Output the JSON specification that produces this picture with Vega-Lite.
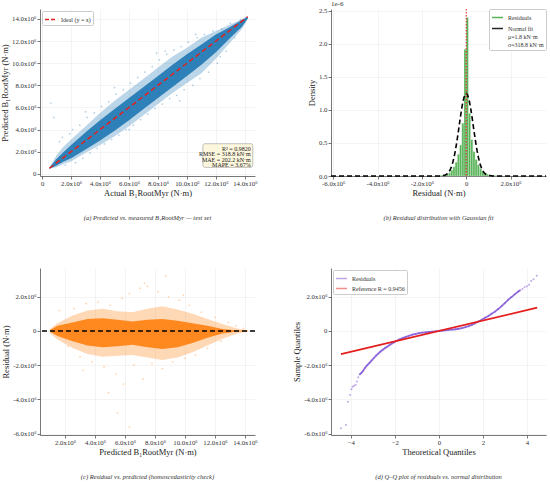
{
  "$schema": "https://vega.github.io/schema/vega-lite/v6.json",
  "padding": {"left": 0, "top": 0, "right": 0, "bottom": 0},
  "background": "white",
  "config": {
    "font": "Liberation Serif",
    "view": {"stroke": null},
    "axis": {"labelFont": "Liberation Serif", "labelFontSize": 6.8, "titleFont": "Liberation Serif", "titleFontSize": 8.5, "titleFontWeight": "normal", "labelColor": "#333333", "titleColor": "#222222", "domainColor": "#555555", "domainWidth": 0.8, "tickColor": "#555555", "tickSize": 3, "tickWidth": 0.8, "gridColor": "#e8e8e8", "gridWidth": 0.5, "labelPadding": 1, "titlePadding": 2, "labelOverlap": false, "labelFlush": false},
    "legend": {"labelFont": "Liberation Serif", "labelFontSize": 6, "labelColor": "#333333", "fillColor": "white", "strokeColor": "#cccccc", "padding": 2, "cornerRadius": 1, "rowPadding": 1, "offset": 2, "symbolSize": 120},
    "title": {"font": "Liberation Serif", "fontSize": 6.5, "fontStyle": "italic", "fontWeight": "normal", "color": "#333333", "orient": "bottom", "frame": "group", "offset": 18}
  },
  "datasets": {
    "bandA": [
      {"x": 0.5, "olo": 0.45, "ohi": 0.6, "clo": 0.45, "chi": 0.55},
      {"x": 1.0, "olo": 0.6, "ohi": 1.7, "clo": 0.75, "chi": 1.35},
      {"x": 1.5, "olo": 0.9, "ohi": 2.5, "clo": 1.1, "chi": 2.0},
      {"x": 2.0, "olo": 1.1, "ohi": 3.1, "clo": 1.4, "chi": 2.6},
      {"x": 3.0, "olo": 1.9, "ohi": 4.3, "clo": 2.2, "chi": 3.75},
      {"x": 4.0, "olo": 2.6, "ohi": 5.5, "clo": 3.0, "chi": 4.85},
      {"x": 5.0, "olo": 3.4, "ohi": 6.6, "clo": 3.9, "chi": 5.85},
      {"x": 6.0, "olo": 4.3, "ohi": 7.6, "clo": 4.85, "chi": 6.85},
      {"x": 7.0, "olo": 5.3, "ohi": 8.6, "clo": 5.85, "chi": 7.85},
      {"x": 8.0, "olo": 6.3, "ohi": 9.6, "clo": 6.85, "chi": 8.85},
      {"x": 9.0, "olo": 7.3, "ohi": 10.6, "clo": 7.85, "chi": 9.85},
      {"x": 10.0, "olo": 8.2, "ohi": 11.4, "clo": 8.85, "chi": 10.8},
      {"x": 11.0, "olo": 9.1, "ohi": 12.3, "clo": 9.85, "chi": 11.7},
      {"x": 12.0, "olo": 10.4, "ohi": 12.9, "clo": 11.0, "chi": 12.6},
      {"x": 13.0, "olo": 11.9, "ohi": 13.5, "clo": 12.3, "chi": 13.3},
      {"x": 13.8, "olo": 13.1, "ohi": 14.0, "clo": 13.3, "chi": 13.9},
      {"x": 14.2, "olo": 14.0, "ohi": 14.25, "clo": 14.05, "chi": 14.2}
    ],
    "pointsA": [
      {"actual": 0.6, "predicted": 6.4}, {"actual": 0.8, "predicted": 5.1}, {"actual": 1.2, "predicted": 2.9}, {"actual": 1.4, "predicted": 3.3},
      {"actual": 1.6, "predicted": 0.8}, {"actual": 1.9, "predicted": 3.6}, {"actual": 2.1, "predicted": 4.0}, {"actual": 2.3, "predicted": 1.0},
      {"actual": 2.6, "predicted": 4.4}, {"actual": 2.8, "predicted": 1.4}, {"actual": 3.1, "predicted": 5.1}, {"actual": 3.3, "predicted": 1.9},
      {"actual": 3.6, "predicted": 5.5}, {"actual": 3.8, "predicted": 2.3}, {"actual": 4.1, "predicted": 6.1}, {"actual": 4.3, "predicted": 2.7},
      {"actual": 4.6, "predicted": 6.5}, {"actual": 4.8, "predicted": 3.1}, {"actual": 5.1, "predicted": 7.2}, {"actual": 5.3, "predicted": 3.5},
      {"actual": 5.6, "predicted": 7.6}, {"actual": 5.8, "predicted": 4.0}, {"actual": 6.1, "predicted": 8.2}, {"actual": 6.3, "predicted": 4.4},
      {"actual": 6.6, "predicted": 8.7}, {"actual": 6.8, "predicted": 4.9}, {"actual": 7.1, "predicted": 9.2}, {"actual": 7.3, "predicted": 5.4},
      {"actual": 7.6, "predicted": 9.7}, {"actual": 7.8, "predicted": 5.9}, {"actual": 8.1, "predicted": 10.3}, {"actual": 8.3, "predicted": 6.3},
      {"actual": 8.6, "predicted": 10.8}, {"actual": 8.8, "predicted": 6.8}, {"actual": 9.1, "predicted": 11.2}, {"actual": 9.3, "predicted": 7.1},
      {"actual": 9.6, "predicted": 11.5}, {"actual": 9.8, "predicted": 7.6}, {"actual": 10.1, "predicted": 11.9}, {"actual": 10.4, "predicted": 8.0},
      {"actual": 10.7, "predicted": 12.3}, {"actual": 10.9, "predicted": 8.6}, {"actual": 11.2, "predicted": 12.6}, {"actual": 11.5, "predicted": 9.2},
      {"actual": 11.8, "predicted": 12.9}, {"actual": 12.1, "predicted": 10.0}, {"actual": 12.4, "predicted": 13.1}, {"actual": 12.7, "predicted": 11.1},
      {"actual": 13.0, "predicted": 13.6}, {"actual": 13.3, "predicted": 12.3}, {"actual": 13.7, "predicted": 13.9}, {"actual": 14.1, "predicted": 14.1},
      {"actual": 5.0, "predicted": 7.8}, {"actual": 7.9, "predicted": 10.9}, {"actual": 9.5, "predicted": 6.6}, {"actual": 3.0, "predicted": 5.6},
      {"actual": 6.0, "predicted": 4.0}, {"actual": 8.5, "predicted": 11.1}, {"actual": 10.6, "predicted": 12.6}, {"actual": 12.3, "predicted": 10.6}
    ],
    "ideal": [
      {"actual": 0.5, "predicted": 0.5},
      {"actual": 14.2, "predicted": 14.2}
    ],
    "hist": [
      {"b0": -1.2, "b1": -1.1, "density": 0.01},
      {"b0": -1.1, "b1": -1.0, "density": 0.015},
      {"b0": -1.0, "b1": -0.9, "density": 0.02},
      {"b0": -0.9, "b1": -0.8, "density": 0.03},
      {"b0": -0.8, "b1": -0.7, "density": 0.05},
      {"b0": -0.7, "b1": -0.6, "density": 0.09},
      {"b0": -0.6, "b1": -0.5, "density": 0.14},
      {"b0": -0.5, "b1": -0.4, "density": 0.21},
      {"b0": -0.4, "b1": -0.3, "density": 0.33},
      {"b0": -0.3, "b1": -0.2, "density": 0.47},
      {"b0": -0.2, "b1": -0.1, "density": 0.8},
      {"b0": -0.1, "b1": 0.0, "density": 1.92},
      {"b0": 0.0, "b1": 0.1, "density": 2.4},
      {"b0": 0.1, "b1": 0.2, "density": 0.95},
      {"b0": 0.2, "b1": 0.3, "density": 0.55},
      {"b0": 0.3, "b1": 0.4, "density": 0.37},
      {"b0": 0.4, "b1": 0.5, "density": 0.25},
      {"b0": 0.5, "b1": 0.6, "density": 0.17},
      {"b0": 0.6, "b1": 0.7, "density": 0.11},
      {"b0": 0.7, "b1": 0.8, "density": 0.07},
      {"b0": 0.8, "b1": 0.9, "density": 0.045},
      {"b0": 0.9, "b1": 1.0, "density": 0.03},
      {"b0": 1.0, "b1": 1.1, "density": 0.02},
      {"b0": 1.1, "b1": 1.2, "density": 0.012},
      {"b0": 1.2, "b1": 1.4, "density": 0.008}
    ],
    "normal": [
      {"x": -6.1, "f": 0}, {"x": -2.0, "f": 0}, {"x": -1.5, "f": 0.0001}, {"x": -1.2, "f": 0.00105},
      {"x": -1.0, "f": 0.00915}, {"x": -0.95, "f": 0.0148}, {"x": -0.9, "f": 0.0233}, {"x": -0.85, "f": 0.0358},
      {"x": -0.8, "f": 0.0537}, {"x": -0.75, "f": 0.0786}, {"x": -0.7, "f": 0.112}, {"x": -0.65, "f": 0.157},
      {"x": -0.6, "f": 0.213}, {"x": -0.55, "f": 0.283}, {"x": -0.5, "f": 0.366}, {"x": -0.45, "f": 0.462},
      {"x": -0.4, "f": 0.57}, {"x": -0.35, "f": 0.685}, {"x": -0.3, "f": 0.804}, {"x": -0.25, "f": 0.92},
      {"x": -0.2, "f": 1.028}, {"x": -0.15, "f": 1.12}, {"x": -0.1, "f": 1.191}, {"x": -0.05, "f": 1.236},
      {"x": 0.0, "f": 1.2514}, {"x": 0.05, "f": 1.236}, {"x": 0.1, "f": 1.191}, {"x": 0.15, "f": 1.12},
      {"x": 0.2, "f": 1.028}, {"x": 0.25, "f": 0.92}, {"x": 0.3, "f": 0.804}, {"x": 0.35, "f": 0.685},
      {"x": 0.4, "f": 0.57}, {"x": 0.45, "f": 0.462}, {"x": 0.5, "f": 0.366}, {"x": 0.55, "f": 0.283},
      {"x": 0.6, "f": 0.213}, {"x": 0.65, "f": 0.157}, {"x": 0.7, "f": 0.112}, {"x": 0.75, "f": 0.0786},
      {"x": 0.8, "f": 0.0537}, {"x": 0.85, "f": 0.0358}, {"x": 0.9, "f": 0.0233}, {"x": 0.95, "f": 0.0148},
      {"x": 1.0, "f": 0.00915}, {"x": 1.2, "f": 0.00105}, {"x": 1.5, "f": 0.0001}, {"x": 2.0, "f": 0}, {"x": 3.6, "f": 0}
    ],
    "bandC": [
      {"x": 1.0, "olo": -0.15, "ohi": 0.12, "clo": -0.05, "chi": 0.05},
      {"x": 1.5, "olo": -0.5, "ohi": 0.45, "clo": -0.3, "chi": 0.3},
      {"x": 2.5, "olo": -1.0, "ohi": 0.9, "clo": -0.6, "chi": 0.5},
      {"x": 3.5, "olo": -1.35, "ohi": 1.2, "clo": -0.85, "chi": 0.7},
      {"x": 4.5, "olo": -1.5, "ohi": 1.3, "clo": -0.95, "chi": 0.75},
      {"x": 5.5, "olo": -1.45, "ohi": 1.15, "clo": -0.9, "chi": 0.65},
      {"x": 6.5, "olo": -1.4, "ohi": 1.1, "clo": -0.8, "chi": 0.55},
      {"x": 7.5, "olo": -1.55, "ohi": 1.3, "clo": -0.95, "chi": 0.65},
      {"x": 8.5, "olo": -1.7, "ohi": 1.45, "clo": -1.05, "chi": 0.7},
      {"x": 9.5, "olo": -1.55, "ohi": 1.25, "clo": -0.95, "chi": 0.6},
      {"x": 10.5, "olo": -1.25, "ohi": 1.0, "clo": -0.7, "chi": 0.45},
      {"x": 11.5, "olo": -0.85, "ohi": 0.7, "clo": -0.4, "chi": 0.3},
      {"x": 12.5, "olo": -0.45, "ohi": 0.4, "clo": -0.15, "chi": 0.12},
      {"x": 13.5, "olo": -0.15, "ohi": 0.15, "clo": -0.03, "chi": 0.03},
      {"x": 14.2, "olo": -0.03, "ohi": 0.03, "clo": -0.01, "chi": 0.01}
    ],
    "pointsC": [
      {"predicted": 1.6, "residual": 1.2}, {"predicted": 2.2, "residual": -0.9}, {"predicted": 2.6, "residual": 1.3}, {"predicted": 3.0, "residual": -1.5},
      {"predicted": 3.4, "residual": 1.6}, {"predicted": 3.8, "residual": -1.8}, {"predicted": 4.2, "residual": 1.7}, {"predicted": 4.6, "residual": -2.1},
      {"predicted": 5.0, "residual": 1.5}, {"predicted": 5.4, "residual": -2.5}, {"predicted": 5.8, "residual": 1.9}, {"predicted": 5.9, "residual": -3.1},
      {"predicted": 6.3, "residual": 2.2}, {"predicted": 6.6, "residual": -2.0}, {"predicted": 7.0, "residual": 2.5}, {"predicted": 7.2, "residual": -2.8},
      {"predicted": 7.5, "residual": 2.6}, {"predicted": 7.8, "residual": -1.9}, {"predicted": 8.2, "residual": 2.3}, {"predicted": 8.5, "residual": -2.2},
      {"predicted": 8.9, "residual": 2.0}, {"predicted": 9.2, "residual": -1.8}, {"predicted": 9.6, "residual": 1.8}, {"predicted": 10.0, "residual": -1.6},
      {"predicted": 10.3, "residual": 1.5}, {"predicted": 10.7, "residual": -1.4}, {"predicted": 11.1, "residual": 1.1}, {"predicted": 11.5, "residual": -1.0},
      {"predicted": 12.0, "residual": 0.8}, {"predicted": 12.4, "residual": -0.6}, {"predicted": 12.9, "residual": 0.5}, {"predicted": 13.4, "residual": 0.3},
      {"predicted": 13.9, "residual": 0.15}, {"predicted": 4.9, "residual": -3.6}, {"predicted": 6.3, "residual": -5.6}, {"predicted": 5.5, "residual": -4.8},
      {"predicted": 7.3, "residual": 2.8}, {"predicted": 8.7, "residual": 3.2}, {"predicted": 3.2, "residual": -2.3}, {"predicted": 9.9, "residual": 2.1}
    ],
    "qq": [
      {"q": -4.45, "s": -5.69}, {"q": -4.22, "s": -5.5}, {"q": -4.13, "s": -4.13}, {"q": -4.03, "s": -3.74},
      {"q": -3.97, "s": -3.4}, {"q": -3.92, "s": -3.26}, {"q": -3.85, "s": -3.2}, {"q": -3.78, "s": -3.14},
      {"q": -3.72, "s": -2.95}, {"q": -3.66, "s": -2.7}, {"q": -3.6, "s": -2.55}, {"q": -3.52, "s": -2.45},
      {"q": -3.44, "s": -2.33}, {"q": -3.35, "s": -2.15}, {"q": -3.25, "s": -2.0}, {"q": -3.15, "s": -1.86},
      {"q": -3.05, "s": -1.72}, {"q": -2.95, "s": -1.58}, {"q": -2.85, "s": -1.44}, {"q": -2.75, "s": -1.32},
      {"q": -2.65, "s": -1.2}, {"q": -2.55, "s": -1.1}, {"q": -2.45, "s": -1.01}, {"q": -2.35, "s": -0.92},
      {"q": -2.25, "s": -0.83}, {"q": -2.15, "s": -0.75}, {"q": -2.05, "s": -0.67}, {"q": -1.95, "s": -0.6},
      {"q": -1.8, "s": -0.5}, {"q": -1.65, "s": -0.42}, {"q": -1.5, "s": -0.35}, {"q": -1.35, "s": -0.28},
      {"q": -1.2, "s": -0.22}, {"q": -1.05, "s": -0.17}, {"q": -0.9, "s": -0.13}, {"q": -0.75, "s": -0.1},
      {"q": -0.6, "s": -0.08}, {"q": -0.45, "s": -0.06}, {"q": -0.3, "s": -0.04}, {"q": -0.15, "s": -0.02},
      {"q": 0.0, "s": 0.0}, {"q": 0.15, "s": 0.02}, {"q": 0.3, "s": 0.04}, {"q": 0.45, "s": 0.06},
      {"q": 0.6, "s": 0.08}, {"q": 0.75, "s": 0.1}, {"q": 0.9, "s": 0.13}, {"q": 1.05, "s": 0.17},
      {"q": 1.2, "s": 0.22}, {"q": 1.35, "s": 0.28}, {"q": 1.5, "s": 0.36}, {"q": 1.65, "s": 0.45},
      {"q": 1.8, "s": 0.55}, {"q": 1.95, "s": 0.66}, {"q": 2.1, "s": 0.77}, {"q": 2.25, "s": 0.88},
      {"q": 2.4, "s": 1.0}, {"q": 2.55, "s": 1.13}, {"q": 2.7, "s": 1.28}, {"q": 2.85, "s": 1.45},
      {"q": 3.0, "s": 1.63}, {"q": 3.15, "s": 1.82}, {"q": 3.3, "s": 1.98}, {"q": 3.45, "s": 2.14},
      {"q": 3.6, "s": 2.3}, {"q": 3.7, "s": 2.38}, {"q": 3.8, "s": 2.46}, {"q": 3.9, "s": 2.55},
      {"q": 4.0, "s": 2.62}, {"q": 4.1, "s": 2.7}, {"q": 4.2, "s": 2.92}, {"q": 4.3, "s": 3.02}, {"q": 4.45, "s": 3.22}
    ],
    "refline": [
      {"q": -4.45, "s": -1.355},
      {"q": 4.47, "s": 1.36}
    ],
    "one": [{}]
  },
  "columns": 2,
  "bounds": "flush",
  "spacing": {"row": 92, "column": 76},
  "resolve": {"scale": {"color": "independent"}, "legend": {"color": "independent"}},
  "concat": [
    {
      "width": 215,
      "height": 167,
      "title": {"text": "(a) Predicted vs. measured B₁RootMyr — test set"},
      "layer": [
        {
          "data": {"name": "bandA"},
          "mark": {"type": "area", "color": "#1f77b4", "opacity": 0.3},
          "encoding": {
            "x": {"field": "x", "type": "quantitative", "scale": {"domain": [-0.15, 14.7], "nice": false, "zero": false}, "axis": {"title": "Actual B₁RootMyr (N·m)", "values": [0, 2, 4, 6, 8, 10, 12, 14], "tickCount": 30, "labelOverlap": false, "labelExpr": "datum.value == 0 ? '0' : format(datum.value, '.1f') + 'x10⁶'"}},
            "y": {"field": "olo", "type": "quantitative", "scale": {"domain": [-0.2, 14.9], "nice": false, "zero": false}, "axis": {"title": "Predicted B₁RootMyr (N·m)", "values": [0, 2, 4, 6, 8, 10, 12, 14], "tickCount": 30, "labelOverlap": false, "labelExpr": "datum.value == 0 ? '0' : format(datum.value, '.1f') + 'x10⁶'"}},
            "y2": {"field": "ohi"}
          }
        },
        {
          "data": {"name": "bandA"},
          "mark": {"type": "area", "color": "#1f77b4", "opacity": 0.9},
          "encoding": {
            "x": {"field": "x", "type": "quantitative"},
            "y": {"field": "clo", "type": "quantitative"},
            "y2": {"field": "chi"}
          }
        },
        {
          "data": {"name": "pointsA"},
          "mark": {"type": "circle", "color": "#1f77b4", "opacity": 0.35, "size": 3},
          "encoding": {
            "x": {"field": "actual", "type": "quantitative"},
            "y": {"field": "predicted", "type": "quantitative"}
          }
        },
        {
          "data": {"name": "ideal"},
          "mark": {"type": "line", "strokeDash": [5, 3], "strokeWidth": 1.5},
          "encoding": {
            "x": {"field": "actual", "type": "quantitative"},
            "y": {"field": "predicted", "type": "quantitative"},
            "color": {"datum": "Ideal (y = x)", "scale": {"domain": ["Ideal (y = x)"], "range": ["#e3201e"]}, "legend": {"title": null, "orient": "top-left", "symbolType": "stroke", "symbolDash": [4, 2], "symbolStrokeWidth": 1.5}}
          }
        },
        {
          "data": {"name": "one"},
          "mark": {"type": "rect", "fill": "#fcf6dc", "stroke": "#999999", "strokeWidth": 0.6, "cornerRadius": 2},
          "encoding": {
            "x": {"datum": 11.1},
            "x2": {"datum": 14.55},
            "y": {"datum": 2.72},
            "y2": {"datum": 0.58}
          }
        },
        {
          "data": {"name": "one"},
          "mark": {"type": "text", "text": ["R² = 0.9820", "RMSE = 318.8 kN·m", "MAE = 202.2 kN·m", "MAPE = 3.67%"], "align": "right", "baseline": "top", "fontSize": 6, "lineHeight": 5.4, "color": "#222222", "dy": 1},
          "encoding": {
            "x": {"datum": 14.4},
            "y": {"datum": 2.6}
          }
        }
      ]
    },
    {
      "width": 215,
      "height": 167,
      "title": {"text": "(b) Residual distribution with Gaussian fit"},
      "layer": [
        {
          "data": {"name": "hist"},
          "mark": {"type": "rect", "opacity": 0.85, "stroke": "white", "strokeWidth": 0.3},
          "encoding": {
            "x": {"field": "b0", "type": "quantitative", "scale": {"domain": [-6.1, 3.6], "nice": false, "zero": false}, "axis": {"title": "Residual (N·m)", "values": [-6, -4, -2, 0, 2], "tickCount": 30, "labelOverlap": false, "labelExpr": "datum.value == 0 ? '0' : replace(format(datum.value, '.1f'), '−', '-') + 'x10⁶'"}},
            "x2": {"field": "b1"},
            "y": {"field": "density", "type": "quantitative", "scale": {"domain": [0, 2.53], "nice": false}, "axis": {"title": "Density", "values": [0, 0.5, 1, 1.5, 2, 2.5], "tickCount": 30, "labelOverlap": false, "format": ".1f"}},
            "y2": {"datum": 0},
            "color": {"datum": "Residuals", "scale": {"domain": ["Residuals", "Normal fit"], "range": ["#3aa63a", "#000000"]}, "legend": {"title": null, "orient": "top-right", "offset": 0, "symbolType": "stroke", "labelExpr": "datum.label == 'Residuals' ? 'Residuals' : ['Normal fit', 'μ=1.8 kN·m', 'σ=318.8 kN·m']", "encode": {"labels": {"update": {"lineHeight": {"value": 6}}}, "symbols": {"update": {"stroke": {"signal": "datum.value == 'Residuals' ? '#4cb04c' : '#000000'"}, "strokeWidth": {"signal": "datum.value == 'Residuals' ? 4 : 1.6"}, "strokeDash": {"signal": "datum.value == 'Residuals' ? [1, 0] : [3, 2]"}}}}}}
          }
        },
        {
          "data": {"name": "normal"},
          "mark": {"type": "line", "strokeDash": [5, 3], "strokeWidth": 1.6},
          "encoding": {
            "x": {"field": "x", "type": "quantitative"},
            "y": {"field": "f", "type": "quantitative"},
            "color": {"datum": "Normal fit"}
          }
        },
        {
          "data": {"name": "one"},
          "mark": {"type": "rule", "color": "#e3201e", "strokeDash": [1.5, 1.5], "strokeWidth": 1},
          "encoding": {
            "x": {"datum": 0.0018}
          }
        },
        {
          "data": {"name": "one"},
          "mark": {"type": "text", "text": "1e-6", "align": "left", "baseline": "bottom", "fontSize": 7, "color": "#333333", "dy": -2},
          "encoding": {
            "x": {"datum": -6.1},
            "y": {"datum": 2.53}
          }
        }
      ]
    },
    {
      "width": 215,
      "height": 167,
      "title": {"text": "(c) Residual vs. predicted (homoscedasticity check)"},
      "layer": [
        {
          "data": {"name": "bandC"},
          "mark": {"type": "area", "color": "#ff7f0e", "opacity": 0.3},
          "encoding": {
            "x": {"field": "x", "type": "quantitative", "scale": {"domain": [0.33, 14.67], "nice": false, "zero": false}, "axis": {"title": "Predicted B₁RootMyr (N·m)", "values": [2, 4, 6, 8, 10, 12, 14], "tickCount": 30, "labelOverlap": false, "labelExpr": "format(datum.value, '.1f') + 'x10⁶'"}},
            "y": {"field": "olo", "type": "quantitative", "scale": {"domain": [-6.08, 3.68], "nice": false, "zero": false}, "axis": {"title": "Residual (N·m)", "values": [-6, -4, -2, 0, 2], "tickCount": 30, "labelOverlap": false, "labelExpr": "datum.value == 0 ? '0' : replace(format(datum.value, '.1f'), '−', '-') + 'x10⁶'"}},
            "y2": {"field": "ohi"}
          }
        },
        {
          "data": {"name": "bandC"},
          "mark": {"type": "area", "color": "#ff7f0e", "opacity": 0.9},
          "encoding": {
            "x": {"field": "x", "type": "quantitative"},
            "y": {"field": "clo", "type": "quantitative"},
            "y2": {"field": "chi"}
          }
        },
        {
          "data": {"name": "pointsC"},
          "mark": {"type": "circle", "color": "#ff7f0e", "opacity": 0.35, "size": 3},
          "encoding": {
            "x": {"field": "predicted", "type": "quantitative"},
            "y": {"field": "residual", "type": "quantitative"}
          }
        },
        {
          "data": {"name": "one"},
          "mark": {"type": "rule", "color": "#000000", "strokeDash": [5, 3], "strokeWidth": 1.5},
          "encoding": {
            "y": {"datum": 0}
          }
        }
      ]
    },
    {
      "width": 215,
      "height": 167,
      "title": {"text": "(d) Q–Q plot of residuals vs. normal distribution"},
      "layer": [
        {
          "data": {"name": "qq"},
          "mark": {"type": "circle", "size": 4, "opacity": 0.5},
          "encoding": {
            "x": {"field": "q", "type": "quantitative", "scale": {"domain": [-4.9, 4.87], "nice": false, "zero": false}, "axis": {"title": "Theoretical Quantiles", "values": [-4, -2, 0, 2, 4], "tickCount": 30, "labelOverlap": false, "format": "d"}},
            "y": {"field": "s", "type": "quantitative", "scale": {"domain": [-6.08, 3.68], "nice": false, "zero": false}, "axis": {"title": "Sample Quantiles", "values": [-6, -4, -2, 0, 2], "tickCount": 30, "labelOverlap": false, "labelExpr": "datum.value == 0 ? '0' : replace(format(datum.value, '.1f'), '−', '-') + 'x10⁶'"}},
            "color": {"datum": "Residuals", "scale": {"domain": ["Residuals", "Reference R = 0.9456"], "range": ["#8052d6", "#e3201e"]}, "legend": {"title": null, "orient": "top-left", "symbolType": "stroke", "rowPadding": 0, "encode": {"symbols": {"update": {"shape": {"signal": "datum.value == 'Residuals' ? 'circle' : 'stroke'"}, "size": {"signal": "datum.value == 'Residuals' ? 4 : 120"}, "fill": {"signal": "datum.value == 'Residuals' ? '#b9a2ea' : 'transparent'"}, "stroke": {"signal": "datum.value == 'Residuals' ? 'transparent' : '#e3201e'"}, "strokeWidth": {"value": 1.8}}}}}}
          }
        },
        {
          "data": {"name": "qq"},
          "transform": [{"filter": "datum.q > -3.65 && datum.q < 3.75"}],
          "mark": {"type": "line", "strokeWidth": 1.8, "opacity": 0.85, "color": "#8052d6"},
          "encoding": {
            "x": {"field": "q", "type": "quantitative"},
            "y": {"field": "s", "type": "quantitative"}
          }
        },
        {
          "data": {"name": "refline"},
          "mark": {"type": "line", "strokeWidth": 1.8},
          "encoding": {
            "x": {"field": "q", "type": "quantitative"},
            "y": {"field": "s", "type": "quantitative"},
            "color": {"datum": "Reference R = 0.9456"}
          }
        }
      ]
    }
  ]
}
